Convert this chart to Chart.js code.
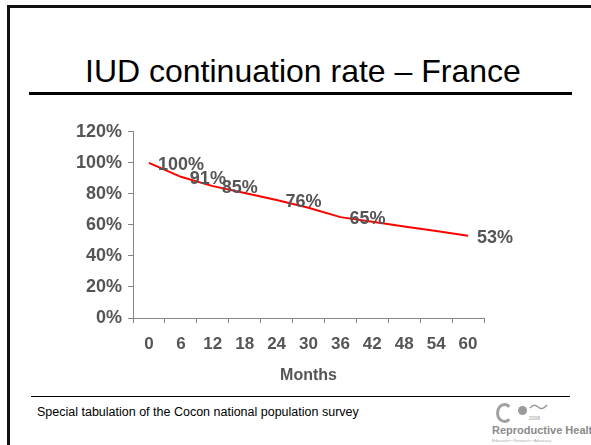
<!DOCTYPE html>
<html>
<head>
<meta charset="utf-8">
<script src="https://cdn.jsdelivr.net/npm/chart.js@4/dist/chart.umd.min.js"></script>
<style>
  html, body { margin: 0; padding: 0; background: #fff; }
  body { width: 591px; height: 445px; position: relative; overflow: hidden; font-family: "Liberation Sans", Arial, sans-serif; }
  .frame { position: absolute; left: 7px; top: 5px; width: 600px; height: 460px; border-left: 3px solid #111; border-top: 3px solid #111; }
  .title { position: absolute; left: 85px; top: 55px; font-size: 32px; line-height: 1; color: #000; white-space: nowrap; }
  .rule { position: absolute; left: 29px; top: 92px; width: 543px; height: 3px; background: #000; }
  .frule { position: absolute; left: 31px; top: 396px; width: 539px; height: 1px; background: #000; }
  .foot { position: absolute; left: 37px; top: 406px; font-size: 12.5px; line-height: 1; color: #000; white-space: nowrap; }
  #wrap { position: absolute; left: 60px; top: 115px; width: 470px; height: 275px; }
  .ring { position: absolute; left: 496px; top: 403px; width: 11px; height: 14px; border: 3px solid #a0a0a0; border-right-color: transparent; border-radius: 50%; }
  .ball { position: absolute; left: 518px; top: 406px; width: 9px; height: 9px; background: #9a9a9a; border-radius: 50%; }
  .sq { position: absolute; left: 529px; top: 402px; }
  .yr { position: absolute; left: 529px; top: 416px; font-size: 5px; line-height: 1; color: #999; }
  .rh { position: absolute; left: 492px; top: 425px; font-weight: bold; font-size: 11px; line-height: 1; color: #8a8a8a; white-space: nowrap; }
  .tag { position: absolute; left: 492px; top: 439px; font-size: 4px; line-height: 1; color: #aaa; white-space: nowrap; }
</style>
</head>
<body>
<div class="frame"></div>
<div class="title">IUD continuation rate – France</div>
<div class="rule"></div>
<div id="wrap"><canvas id="c"></canvas></div>
<div class="frule"></div>
<div class="foot">Special tabulation of the Cocon national population survey</div>
<div class="ring"></div>
<div class="ball"></div>
<svg class="sq" width="20" height="10" viewBox="0 0 20 10"><path d="M1 6 Q5 1 9 5 T18 3" fill="none" stroke="#9a9a9a" stroke-width="1.5"/></svg>
<div class="yr">2008</div>
<div class="rh">Reproductive Health</div>
<div class="tag">Education • Research • Advocacy</div>
<script>
// Data
const months = ['0', '6', '12', '18', '24', '30', '36', '42', '48', '54', '60'];
const continuationRate = [100, 91, 85, 80.5, 76, 71, 65, 62, 59, 56, 53];
const pointLabels = ['100%', '91%', '85%', '', '76%', '', '65%', '', '', '', '53%'];
const yTickMax = 120;
const yTickStep = 20;
const xAxisTitle = 'Months';

const labelPlugin = {
  id: 'pointLabelsPlugin',
  afterDatasetsDraw(chart) {
    const meta = chart.getDatasetMeta(0);
    const ctx = chart.ctx;
    ctx.save();
    ctx.font = 'bold 18px "Liberation Sans", Arial, sans-serif';
    ctx.fillStyle = '#555555';
    ctx.textAlign = 'left';
    ctx.textBaseline = 'middle';
    meta.data.forEach((pt, i) => {
      const t = pointLabels[i];
      if (t) ctx.fillText(t, pt.x + 9, pt.y + 2);
    });
    ctx.restore();
  }
};

const axisGrey = '#868686';
const tickColor = '#555555';

new Chart(document.getElementById('c'), {
  type: 'line',
  data: {
    labels: months,
    datasets: [{
      data: continuationRate,
      borderColor: '#ff0000',
      borderWidth: 2,
      pointRadius: 0,
      tension: 0,
      fill: false
    }]
  },
  options: {
    responsive: true,
    maintainAspectRatio: false,
    animation: false,
    events: [],
    devicePixelRatio: 1,
    layout: { padding: { left: 0, right: 46, top: 16, bottom: 0 } },
    plugins: { legend: { display: false }, tooltip: { enabled: false } },
    scales: {
      x: {
        type: 'category',
        offset: true,
        afterFit(s) { s.height = 72; },
        grid: { display: true, drawOnChartArea: false, drawTicks: true, tickLength: 5, color: axisGrey, offset: true },
        border: { display: true, color: axisGrey, width: 1 },
        ticks: { color: tickColor, padding: 11, maxRotation: 0, autoSkip: false, font: { family: '"Liberation Sans", Arial, sans-serif', size: 17, weight: 'bold' } },
        title: { display: true, text: xAxisTitle, color: tickColor, padding: { top: 0, bottom: 5 }, font: { family: '"Liberation Sans", Arial, sans-serif', size: 16, weight: 'bold' } }
      },
      y: {
        min: 0,
        max: yTickMax,
        afterFit(s) { s.width = 73; },
        grid: { display: true, drawOnChartArea: false, drawTicks: true, tickLength: 5, color: axisGrey },
        border: { display: true, color: axisGrey, width: 1 },
        ticks: { stepSize: yTickStep, color: tickColor, padding: 6, callback: v => v + '%', font: { family: '"Liberation Sans", Arial, sans-serif', size: 18, weight: 'bold' } }
      }
    }
  },
  plugins: [labelPlugin]
});
</script>
</body>
</html>
